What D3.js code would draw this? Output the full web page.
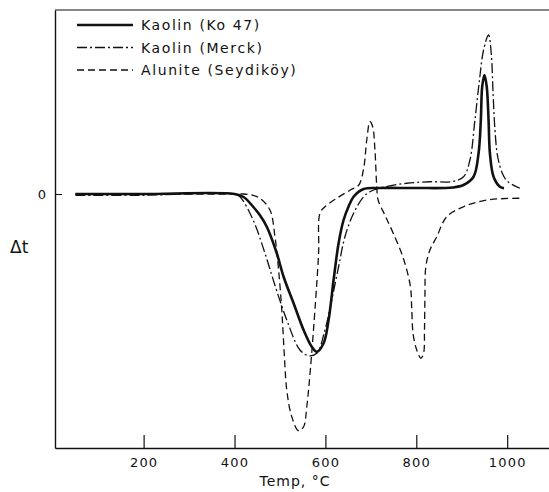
<!DOCTYPE html>
<html>
<head>
<meta charset="utf-8">
<script src="https://cdn.jsdelivr.net/npm/d3@7"></script>
<style>
  body { margin: 0; background: #fff; }
  svg text { font-family: "DejaVu Sans", sans-serif; fill: #111; }
</style>
</head>
<body>
<script>
// DTA curves (temperature in °C, Δt in arbitrary units)
var seriesNames = ["Kaolin (Ko 47)", "Kaolin (Merck)", "Alunite (Seydiköy)"]
var xTicks = [200, 400, 600, 800, 1000]

var ko47Temp = [50, 200, 400, 420, 441, 456, 471, 493, 508, 530, 552, 570, 581, 596, 607, 618, 629, 640, 651, 662, 684, 720, 800, 880, 904, 926, 937, 942, 945, 950, 955, 959, 962, 970, 984, 993]
var ko47Val  = [0, 0, 0, -0.12, -0.51, -0.85, -1.31, -2.37, -3.31, -4.37, -5.44, -6.11, -6.31, -5.97, -5.04, -3.44, -1.97, -1.04, -0.5, -0.11, 0.2, 0.24, 0.24, 0.26, 0.36, 0.69, 1.63, 2.96, 4.29, 4.76, 4.29, 2.96, 1.63, 0.69, 0.29, 0.23]

var merckTemp = [50, 200, 400, 412, 441, 467, 490, 515, 544, 563, 581, 599, 614, 629, 643, 662, 684, 698, 727, 779, 830, 880, 904, 918, 929, 939, 948, 959, 965, 969, 973, 979, 990, 1001, 1028]
var merckVal  = [-0.05, -0.05, 0, -0.11, -1.04, -2.37, -3.71, -5.04, -6.24, -6.47, -6.37, -5.44, -4.24, -2.91, -1.71, -0.77, -0.11, 0.09, 0.27, 0.43, 0.49, 0.5, 0.69, 1.36, 2.96, 4.56, 5.76, 6.36, 5.6, 4.0, 2.6, 1.5, 0.8, 0.5, 0.23]

var aluTemp = [50, 200, 400, 420, 440, 456, 478, 489, 497, 504, 509, 515, 526, 541, 552, 559, 567, 578, 585, 588, 599, 625, 655, 673, 684, 691, 698, 704, 709, 713, 716, 731, 750, 772, 787, 790, 793, 801, 810, 816, 818, 819, 821, 830, 845, 867, 904, 955, 1030]
var aluVal  = [0, 0, 0, 0, -0.05, -0.17, -0.64, -1.71, -3.04, -4.64, -6.24, -7.84, -8.91, -9.47, -9.31, -8.51, -7.0, -4.37, -2.37, -0.77, -0.51, -0.17, 0.16, 0.35, 1.0, 2.16, 2.89, 2.69, 1.76, 0.29, -0.24, -0.85, -1.6, -2.6, -3.7, -4.6, -5.6, -6.24, -6.57, -6.37, -5.44, -4.11, -2.91, -2.24, -1.71, -0.91, -0.51, -0.24, -0.17]

var width = 549, height = 492
var plotLeft = 55, plotRight = 549, plotTop = 10, plotBottom = 448

var svg = d3.select("body").append("svg")
    .attr("width", width)
    .attr("height", height)

var x = d3.scaleLinear().domain([5, 1092]).range([plotLeft, plotRight])
var y = d3.scaleLinear().domain([-10.16, 7.36]).range([plotBottom, plotTop])

// frame: top border line
svg.append("line")
    .attr("x1", plotLeft).attr("x2", plotRight)
    .attr("y1", plotTop).attr("y2", plotTop)
    .attr("stroke", "#111").attr("stroke-width", 1.2)

// x axis with inward ticks
var xAxis = svg.append("g")
    .attr("transform", "translate(0," + plotBottom + ")")
    .call(d3.axisBottom(x).tickValues(xTicks).tickFormat(d3.format("d"))
        .tickSizeInner(-13).tickSizeOuter(0).tickPadding(10))
xAxis.select(".domain").attr("stroke", "#111").attr("stroke-width", 1.4)
xAxis.selectAll(".tick line").attr("stroke", "#111").attr("stroke-width", 1.2)
xAxis.selectAll(".tick text")
    .style("font-size", "13px")
    .style("letter-spacing", "1.2px")
    .style("font-family", "DejaVu Sans")

// y axis: only the zero mark
var yAxis = svg.append("g")
    .attr("transform", "translate(" + plotLeft + ",0)")
    .call(d3.axisLeft(y).tickValues([0]).tickSizeInner(-7).tickSizeOuter(0).tickPadding(9))
yAxis.select(".domain").attr("stroke", "#111").attr("stroke-width", 1.4)
yAxis.selectAll(".tick line").attr("stroke", "#111").attr("stroke-width", 1)
yAxis.selectAll(".tick text")
    .style("font-size", "13px")
    .style("font-family", "DejaVu Sans")

// axis titles
svg.append("text")
    .attr("x", 295).attr("y", 486)
    .attr("text-anchor", "middle")
    .style("font-size", "14px")
    .style("letter-spacing", "1px")
    .text("Temp, °C")
svg.append("text")
    .attr("x", 10).attr("y", 253)
    .style("font-size", "17px")
    .text("Δt")

// curves
var styles = [
    { width: 2.6, dash: null },
    { width: 1.3, dash: "10,3,2,3" },
    { width: 1.3, dash: "7,4" }
]
var curves = [
    d3.zip(ko47Temp, ko47Val),
    d3.zip(merckTemp, merckVal),
    d3.zip(aluTemp, aluVal)
]

var line = d3.line()
    .x(function(d) { return x(d[0]) })
    .y(function(d) { return y(d[1]) })
    .curve(d3.curveCatmullRom.alpha(0.5))

svg.selectAll("path.curve")
    .data(curves)
    .enter()
    .append("path")
        .attr("class", "curve")
        .attr("d", line)
        .attr("fill", "none")
        .attr("stroke", "#111")
        .attr("stroke-width", function(d, i) { return styles[i].width })
        .attr("stroke-dasharray", function(d, i) { return styles[i].dash })
        .attr("stroke-linejoin", "round")

// legend
var legend = svg.selectAll("g.legend")
    .data(seriesNames)
    .enter()
    .append("g")
        .attr("class", "legend")
        .attr("transform", function(d, i) { return "translate(0," + (25 + i * 22.5) + ")" })
legend.append("line")
    .attr("x1", 77).attr("x2", 133)
    .attr("stroke", "#111")
    .attr("stroke-width", function(d, i) { return styles[i].width })
    .attr("stroke-dasharray", function(d, i) { return styles[i].dash })
legend.append("text")
    .attr("x", 141).attr("y", 5)
    .style("font-size", "14px")
    .style("letter-spacing", "1.6px")
    .text(function(d) { return d })
</script>
</body>
</html>
